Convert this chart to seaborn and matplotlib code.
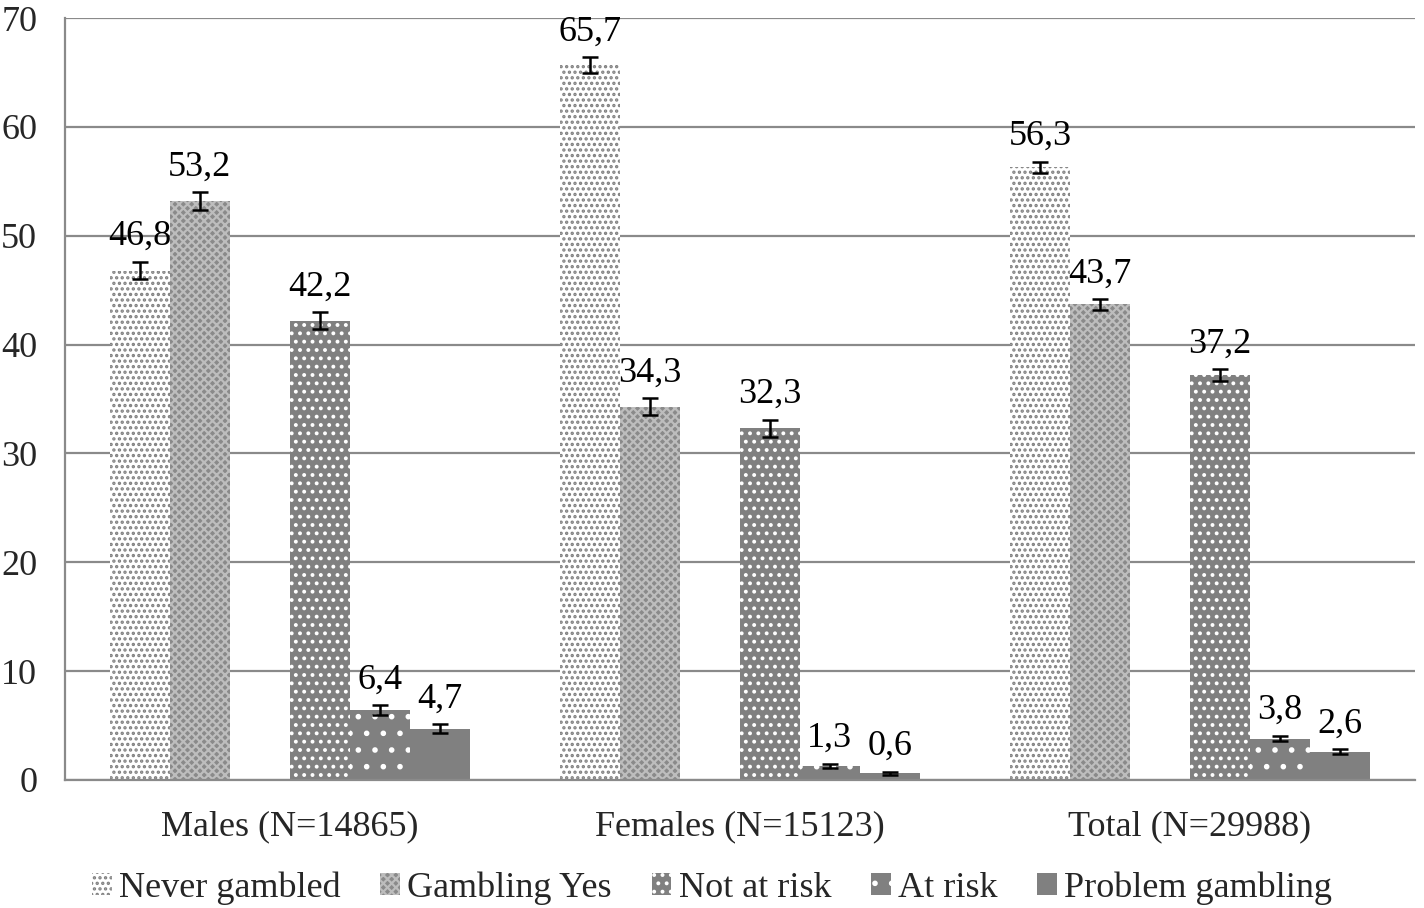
import numpy as np
import pandas as pd
import matplotlib
matplotlib.use('Agg')
import matplotlib.pyplot as plt
from matplotlib.patches import Patch
import seaborn as sns

# data
groups = ['Males (N=14865)', 'Females (N=15123)', 'Total (N=29988)']
series = ['Never gambled', 'Gambling Yes', ' ', 'Not at risk', 'At risk', 'Problem gambling']
never_gambled = [46.8, 65.7, 56.3]
gambling_yes = [53.2, 34.3, 43.7]
blank = [0, 0, 0]
not_at_risk = [42.2, 32.3, 37.2]
at_risk = [6.4, 1.3, 3.8]
problem_gambling = [4.7, 0.6, 2.6]
# half-width of the error bars (estimated)
err_never = [0.8, 0.7, 0.5]
err_yes = [0.8, 0.8, 0.5]
err_blank = [0, 0, 0]
err_notrisk = [0.8, 0.8, 0.55]
err_risk = [0.45, 0.2, 0.25]
err_problem = [0.4, 0.15, 0.2]

values = [never_gambled, gambling_yes, blank, not_at_risk, at_risk, problem_gambling]
errs = [err_never, err_yes, err_blank, err_notrisk, err_risk, err_problem]

rows = []
for s, vals in zip(series, values):
    for g, v in zip(groups, vals):
        rows.append({'group': g, 'series': s, 'value': v})
df = pd.DataFrame(rows)

sns.set_style('white')
plt.rcParams['font.family'] = ['Liberation Serif', 'DejaVu Serif']
plt.rcParams['hatch.linewidth'] = 1.6

GRAY = '#808080'
styles = {
    'Never gambled': dict(fc='white', ec=GRAY, hatch='...'),
    'Gambling Yes': dict(fc='#8a8a8a', ec='#bdbdbd', hatch='xxxx'),
    ' ': dict(fc='none', ec='none', hatch=None),
    'Not at risk': dict(fc=GRAY, ec='white', hatch='..'),
    'At risk': dict(fc=GRAY, ec='white', hatch='.'),
    'Problem gambling': dict(fc=GRAY, ec=GRAY, hatch=None),
}
FS = 26

fig = plt.figure(figsize=(14.24, 9.08), dpi=100)
ax = fig.add_axes([0.0456, 0.141, 0.948, 0.839])

sns.barplot(data=df, x='group', y='value', hue='series', hue_order=series,
            errorbar=None, width=0.8, gap=0, legend=False, ax=ax)

for s, cont, vals, ers in zip(series, ax.containers, values, errs):
    st = styles[s]
    for bar in cont:
        bar.set_facecolor(st['fc'])
        bar.set_edgecolor(st['ec'])
        bar.set_linewidth(0)
        if st['hatch']:
            bar.set_hatch(st['hatch'])
    if s == ' ':
        continue
    xs = [b.get_x() + b.get_width() / 2 for b in cont]
    hs = [b.get_height() for b in cont]
    ax.errorbar(xs, hs, yerr=ers, fmt='none', ecolor='black', elinewidth=1.8,
                capsize=6, capthick=1.8, zorder=5)
    for x, h, e in zip(xs, hs, ers):
        ax.text(x, h + e + 0.8, f'{h:.1f}'.replace('.', ','), ha='center', va='bottom',
                fontsize=FS, color='black')

ax.set_ylim(0, 70)
ax.set_xlim(-0.5, 2.5)
ax.set_yticks(np.arange(0, 71, 10))
ax.yaxis.grid(True, color='#8a8a8a', linewidth=1.6)
ax.set_axisbelow(True)
ax.set_xlabel('')
ax.set_ylabel('')
for side in ['top', 'right']:
    ax.spines[side].set_visible(False)
for side in ['left', 'bottom']:
    ax.spines[side].set_color('#8a8a8a')
    ax.spines[side].set_linewidth(1.6)
ax.set_xticks([-0.5, 0.5, 1.5, 2.5], minor=True)
ax.tick_params(axis='x', which='major', length=0, labelsize=FS, pad=22)
ax.tick_params(axis='x', which='minor', length=10, width=1.6, color='#8a8a8a', direction='out')
ax.tick_params(axis='y', which='major', length=10, width=1.6, color='#8a8a8a',
               direction='out', labelsize=FS, pad=10)

handles = []
for s in series:
    if s == ' ':
        continue
    st = styles[s]
    handles.append(Patch(facecolor=st['fc'], edgecolor=st['ec'], hatch=st['hatch'],
                         linewidth=0, label=s))
fig.legend(handles=handles, loc='center', bbox_to_anchor=(0.5, 0.022), ncol=5,
           frameon=False, fontsize=FS, handlelength=0.55, handleheight=0.55,
           handletextpad=0.2, columnspacing=1.1)

fig.savefig('out.png', dpi=100)
